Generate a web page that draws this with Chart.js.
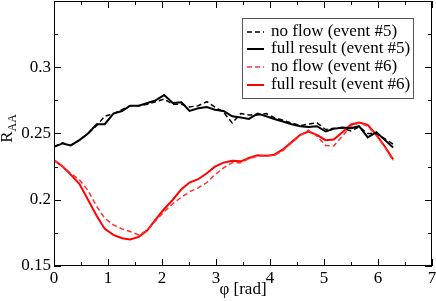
<!DOCTYPE html>
<html>
<head>
<meta charset="utf-8">
<script src="https://cdn.jsdelivr.net/npm/chart.js@4"></script>
<style>
  html, body { margin: 0; padding: 0; background: #fff; }
  #wrap { width: 436px; height: 301px; }
</style>
</head>
<body>
<div id="wrap"><canvas id="raa"></canvas></div>
<script>
// phi grid (rad)
const phi = [0, 0.16, 0.31, 0.47, 0.63, 0.79, 0.94, 1.10, 1.26, 1.41, 1.57, 1.73, 1.88, 2.04,
  2.20, 2.36, 2.51, 2.67, 2.83, 2.98, 3.14, 3.30, 3.46, 3.61, 3.77, 3.93, 4.08, 4.24, 4.40,
  4.56, 4.71, 4.87, 5.03, 5.18, 5.34, 5.50, 5.65, 5.81, 5.97, 6.13, 6.28];

// event #5
const noFlow5 = [0.240, 0.243, 0.241, 0.245, 0.250, 0.256, 0.263, 0.265, 0.268, 0.271, 0.271, 0.272, 0.274, 0.276,
  0.272, 0.272, 0.270, 0.271, 0.274, 0.270, 0.266, 0.258, 0.265, 0.264, 0.264, 0.265, 0.262, 0.260, 0.258,
  0.256, 0.257, 0.258, 0.253, 0.254, 0.254, 0.252, 0.255, 0.250, 0.250, 0.246, 0.242];
const full5 = [0.240, 0.2425, 0.241, 0.245, 0.250, 0.257, 0.257, 0.265, 0.267, 0.271, 0.271, 0.273, 0.275, 0.279,
  0.273, 0.2735, 0.267, 0.269, 0.270, 0.268, 0.267, 0.263, 0.262, 0.261, 0.265, 0.263, 0.261, 0.259, 0.257,
  0.2555, 0.255, 0.2555, 0.2515, 0.2535, 0.2545, 0.254, 0.2555, 0.247, 0.251, 0.245, 0.2395];

// event #6
const noFlow6 = [0.230, 0.225, 0.220, 0.215, 0.207, 0.195, 0.186, 0.181, 0.178, 0.176, 0.1735, 0.177, 0.184, 0.191,
  0.197, 0.202, 0.206, 0.209, 0.213, 0.219, 0.224, 0.228, 0.228, 0.231, 0.233, 0.233, 0.2335, 0.237, 0.243,
  0.2485, 0.2525, 0.248, 0.241, 0.2405, 0.248, 0.2555, 0.258, 0.2555, 0.2485, 0.2395, 0.2295];
const full6 = [0.230, 0.225, 0.219, 0.212, 0.200, 0.188, 0.178, 0.1735, 0.171, 0.170, 0.172, 0.177, 0.185, 0.193,
  0.200, 0.208, 0.213, 0.2155, 0.220, 0.225, 0.228, 0.2295, 0.229, 0.2315, 0.2335, 0.2333, 0.234, 0.238, 0.2435,
  0.249, 0.2515, 0.249, 0.245, 0.2455, 0.251, 0.2568, 0.2583, 0.2565, 0.249, 0.240, 0.2305];

const seriesLabels = ["no flow (event #5)", "full result (event #5)", "no flow (event #6)", "full result (event #6)"];

// axis ticks
const xTicks = [0, 1, 2, 3, 4, 5, 6, 7];
const xMinorTicks = [0.5, 1.5, 2.5, 3.5, 4.5, 5.5, 6.5];
const yTicks = [0.15, 0.2, 0.25, 0.3, 0.35];
const yTickLabels = ["0.15", "0.2", "0.25", "0.3", ""];
const yMinorTicks = [0.175, 0.225, 0.275, 0.325];

const SERIF = "'Liberation Serif', 'Times New Roman', serif";
const FS = 17;

function toPoints(ys) {
  return ys.map((y, i) => ({ x: phi[i], y: y }));
}

function makeSet(label, ys, color, dashed) {
  return {
    label: label,
    data: toPoints(ys),
    borderColor: color,
    backgroundColor: color,
    borderWidth: dashed ? 1.5 : 2,
    borderDash: dashed ? [5, 3] : [],
    pointRadius: 0,
    tension: 0,
    fill: false,
  };
}

// frame, inward ticks, axis titles and the boxed legend
const framePlugin = {
  id: "frame",
  afterDraw(chart) {
    const ctx = chart.ctx;
    const a = chart.chartArea;
    const xs = chart.scales.x;
    const ys = chart.scales.y;
    ctx.save();
    ctx.strokeStyle = "#000";
    ctx.lineWidth = 1;
    ctx.strokeRect(a.left + 0.5, a.top + 0.5, a.right - a.left - 1, a.bottom - a.top - 1);

    ctx.beginPath();
    const xt = (v, len) => {
      const px = Math.round(xs.getPixelForValue(v)) + 0.5;
      ctx.moveTo(px, a.bottom); ctx.lineTo(px, a.bottom - len);
      ctx.moveTo(px, a.top); ctx.lineTo(px, a.top + len);
    };
    const yt = (v, len) => {
      const py = Math.round(ys.getPixelForValue(v)) + 0.5;
      ctx.moveTo(a.left, py); ctx.lineTo(a.left + len, py);
      ctx.moveTo(a.right, py); ctx.lineTo(a.right - len, py);
    };
    xTicks.forEach((v) => xt(v, 7));
    xMinorTicks.forEach((v) => xt(v, 4));
    yTicks.forEach((v) => yt(v, 7));
    yMinorTicks.forEach((v) => yt(v, 4));
    ctx.stroke();

    // axis titles
    ctx.fillStyle = "#000";
    ctx.font = FS + "px " + SERIF;
    ctx.textAlign = "center";
    ctx.textBaseline = "middle";
    ctx.fillText("\u03c6 [rad]", (a.left + a.right) / 2, 290);

    ctx.save();
    ctx.translate(8, ys.getPixelForValue(0.25) - 5);
    ctx.rotate(-Math.PI / 2);
    ctx.textAlign = "left";
    ctx.font = FS + "px " + SERIF;
    const rw = ctx.measureText("R").width;
    ctx.font = "12px " + SERIF;
    const sw = ctx.measureText("AA").width;
    const start = -(rw + sw) / 2;
    ctx.font = FS + "px " + SERIF;
    ctx.fillText("R", start, 0);
    ctx.font = "12px " + SERIF;
    ctx.fillText("AA", start + rw, 5);
    ctx.restore();

    // legend
    const lx = 242, ly = 18, lw = 171, lh = 80;
    ctx.fillStyle = "#fff";
    ctx.fillRect(lx, ly, lw, lh);
    ctx.strokeStyle = "#555";
    ctx.strokeRect(lx + 0.5, ly + 0.5, lw, lh);
    const rows = [32, 49, 67, 85];
    chart.data.datasets.forEach((ds, i) => {
      ctx.beginPath();
      ctx.strokeStyle = ds.borderColor;
      ctx.lineWidth = ds.borderWidth;
      ctx.setLineDash(ds.borderDash);
      ctx.moveTo(247, rows[i]);
      ctx.lineTo(264, rows[i]);
      ctx.stroke();
      ctx.setLineDash([]);
      ctx.fillStyle = "#000";
      ctx.font = FS + "px " + SERIF;
      ctx.textAlign = "left";
      ctx.fillText(ds.label, 271, rows[i]);
    });
    ctx.restore();
  },
};

new Chart(document.getElementById("raa"), {
  type: "line",
  data: {
    datasets: [
      makeSet(seriesLabels[0], noFlow5, "#000000", true),
      makeSet(seriesLabels[1], full5, "#000000", false),
      makeSet(seriesLabels[2], noFlow6, "#ff3030", true),
      makeSet(seriesLabels[3], full6, "#ff0000", false),
    ],
  },
  options: {
    responsive: true,
    maintainAspectRatio: false,
    animation: false,
    layout: { padding: { top: 1, right: 4, left: 0, bottom: 0 } },
    plugins: {
      legend: { display: false },
      tooltip: { enabled: false },
    },
    scales: {
      x: {
        type: "linear",
        min: 0,
        max: 7,
        afterFit: (s) => {
          s.height = 35;
          s.paddingLeft = 0;
          s.paddingRight = 0;
        },
        afterBuildTicks: (s) => { s.ticks = xTicks.map((v) => ({ value: v })); },
        grid: { display: false, drawTicks: false },
        border: { display: false },
        ticks: {
          padding: 2,
          color: "#000",
          font: { family: SERIF, size: FS },
          callback: (v) => String(v),
        },
      },
      y: {
        type: "linear",
        min: 0.15,
        max: 0.35,
        afterFit: (s) => {
          s.width = 54;
          s.paddingTop = 0;
          s.paddingBottom = 0;
        },
        afterBuildTicks: (s) => {
          s.ticks = yTicks.filter((v, i) => yTickLabels[i] !== "").map((v) => ({ value: v }));
        },
        grid: { display: false, drawTicks: false },
        border: { display: false },
        ticks: {
          padding: 3,
          color: "#000",
          font: { family: SERIF, size: FS },
          callback: (v) => {
            const i = yTicks.findIndex((t) => Math.abs(t - v) < 1e-6);
            return i >= 0 ? yTickLabels[i] : "";
          },
        },
      },
    },
  },
  plugins: [framePlugin],
});
</script>
</body>
</html>
